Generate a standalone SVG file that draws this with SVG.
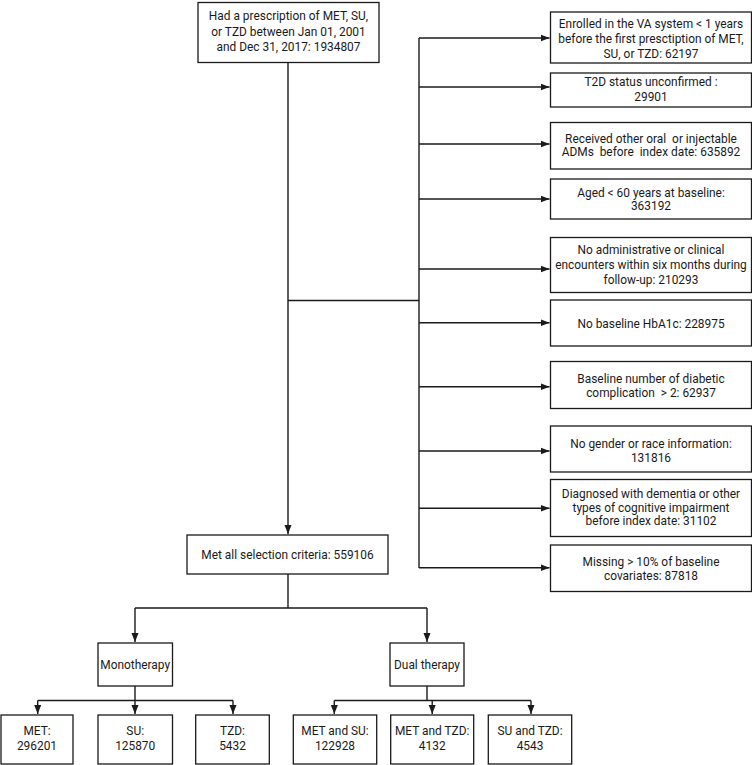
<svg xmlns="http://www.w3.org/2000/svg" width="752" height="765" viewBox="0 0 752 765">
<style>
.b{fill:#fff;stroke:#1a1a1a;stroke-width:1.3}
.c{fill:none;stroke:#1a1a1a;stroke-width:1.4}
text{font-family:Roboto,"Liberation Sans",Arial,sans-serif;font-size:11.9px;fill:#1a1a1a;text-anchor:middle}
</style>
<defs>
<marker id="ah" markerUnits="userSpaceOnUse" markerWidth="10" markerHeight="8" refX="9" refY="4" orient="auto">
<path d="M0,0.5 L9,4 L0,7.5 Z" fill="#1a1a1a"/>
</marker>
</defs>
<rect width="752" height="765" fill="#fff"/>
<g id="connectors">
<path class="c" d="M288,62.5 V534" marker-end="url(#ah)"/>
<path class="c" d="M288,300.5 H419" stroke-width="2"/>
<path class="c" d="M419,38 V568"/>
<path class="c" d="M419,38 H549.5" marker-end="url(#ah)"/>
<path class="c" d="M419,87 H549.5" marker-end="url(#ah)"/>
<path class="c" d="M419,144 H549.5" marker-end="url(#ah)"/>
<path class="c" d="M419,199 H549.5" marker-end="url(#ah)"/>
<path class="c" d="M419,269 H549.5" marker-end="url(#ah)"/>
<path class="c" d="M419,322.7 H549.5" marker-end="url(#ah)"/>
<path class="c" d="M419,386.7 H549.5" marker-end="url(#ah)"/>
<path class="c" d="M419,451 H549.5" marker-end="url(#ah)"/>
<path class="c" d="M419,508.3 H549.5" marker-end="url(#ah)"/>
<path class="c" d="M419,567.7 H549.5" marker-end="url(#ah)"/>
<path class="c" d="M288,574 V608"/>
<path class="c" d="M135,608 H427"/>
<path class="c" d="M135,608 V642" marker-end="url(#ah)"/>
<path class="c" d="M427,608 V642" marker-end="url(#ah)"/>
<path class="c" d="M135,686 V700.5"/>
<path class="c" d="M37.7,700.5 H233"/>
<path class="c" d="M37.7,700.5 V714" marker-end="url(#ah)"/>
<path class="c" d="M135,700.5 V714" marker-end="url(#ah)"/>
<path class="c" d="M233,700.5 V714" marker-end="url(#ah)"/>
<path class="c" d="M427,686 V700.5"/>
<path class="c" d="M334.3,700.5 H531"/>
<path class="c" d="M334.3,700.5 V714" marker-end="url(#ah)"/>
<path class="c" d="M432.2,700.5 V714" marker-end="url(#ah)"/>
<path class="c" d="M531,700.5 V714" marker-end="url(#ah)"/>
</g>
<g id="start">
<rect class="b" x="198" y="2.5" width="181" height="60"/>
<text x="288.5" y="20.3">Had a prescription of MET, SU,</text>
<text x="288.5" y="35.9">or TZD between Jan 01, 2001</text>
<text x="288.5" y="50.9">and Dec 31, 2017: 1934807</text>
</g>
<g id="ex1">
<rect class="b" x="550.5" y="12" width="201" height="51"/>
<text x="651" y="27.5">Enrolled in the VA system &lt; 1 years</text>
<text x="651" y="42.5">before the first presctiption of MET,</text>
<text x="651" y="57.5">SU, or TZD: 62197</text>
</g>
<g id="ex2">
<rect class="b" x="550.5" y="73" width="201" height="34"/>
<text x="651" y="86">T2D status unconfirmed :</text>
<text x="651" y="101">29901</text>
</g>
<g id="ex3">
<rect class="b" x="550.5" y="122.5" width="201" height="46.5"/>
<text x="651" y="142.5" xml:space="preserve">Received other oral  or injectable</text>
<text x="651" y="156" xml:space="preserve">ADMs  before  index date: 635892</text>
</g>
<g id="ex4">
<rect class="b" x="550.5" y="179" width="201" height="40"/>
<text x="651" y="197">Aged &lt; 60 years at baseline:</text>
<text x="651" y="210">363192</text>
</g>
<g id="ex5">
<rect class="b" x="550.5" y="237.5" width="201" height="55"/>
<text x="651" y="253.5">No administrative or clinical</text>
<text x="651" y="269.2">encounters within six months during</text>
<text x="651" y="284.3">follow-up: 210293</text>
</g>
<g id="ex6">
<rect class="b" x="550.5" y="300" width="201" height="46"/>
<text x="651" y="327.5">No baseline HbA1c: 228975</text>
</g>
<g id="ex7">
<rect class="b" x="550.5" y="361.5" width="201" height="47"/>
<text x="651" y="382.5">Baseline number of diabetic</text>
<text x="651" y="397" xml:space="preserve">complication  &gt; 2: 62937</text>
</g>
<g id="ex8">
<rect class="b" x="550.5" y="426" width="201" height="46"/>
<text x="651" y="447.5">No gender or race information:</text>
<text x="651" y="461.5">131816</text>
</g>
<g id="ex9">
<rect class="b" x="550.5" y="479.5" width="201" height="57"/>
<text x="651" y="497.5">Diagnosed with dementia or other</text>
<text x="651" y="511.5">types of cognitive impairment</text>
<text x="651" y="525.2">before index date: 31102</text>
</g>
<g id="ex10">
<rect class="b" x="550.5" y="545" width="201" height="46.5"/>
<text x="651" y="566">Missing &gt; 10% of baseline</text>
<text x="651" y="579.5">covariates: 87818</text>
</g>
<g id="met-all">
<rect class="b" x="187" y="535" width="201" height="39"/>
<text x="287.5" y="558.7">Met all selection criteria: 559106</text>
</g>
<g id="mono">
<rect class="b" x="98" y="643" width="74.5" height="43"/>
<text x="135.2" y="668.8">Monotherapy</text>
</g>
<g id="dual">
<rect class="b" x="390" y="643" width="74" height="43"/>
<text x="427" y="668.8">Dual therapy</text>
</g>
<g id="met">
<rect class="b" x="1" y="715" width="72" height="49"/>
<text x="37" y="735.2">MET:</text>
<text x="37" y="750.2">296201</text>
</g>
<g id="su">
<rect class="b" x="98" y="715" width="74.5" height="49"/>
<text x="135.2" y="735.2">SU:</text>
<text x="135.2" y="750.2">125870</text>
</g>
<g id="tzd">
<rect class="b" x="195.7" y="715" width="73.6" height="49"/>
<text x="232.5" y="735.2">TZD:</text>
<text x="232.5" y="750.2">5432</text>
</g>
<g id="met-su">
<rect class="b" x="293.3" y="715" width="83.4" height="49"/>
<text x="335" y="735.2">MET and SU:</text>
<text x="335" y="750.2">122928</text>
</g>
<g id="met-tzd">
<rect class="b" x="390.7" y="715" width="83" height="49"/>
<text x="432.2" y="735.2">MET and TZD:</text>
<text x="432.2" y="750.2">4132</text>
</g>
<g id="su-tzd">
<rect class="b" x="488.3" y="715" width="83.4" height="49"/>
<text x="530" y="735.2">SU and TZD:</text>
<text x="530" y="750.2">4543</text>
</g>
</svg>
